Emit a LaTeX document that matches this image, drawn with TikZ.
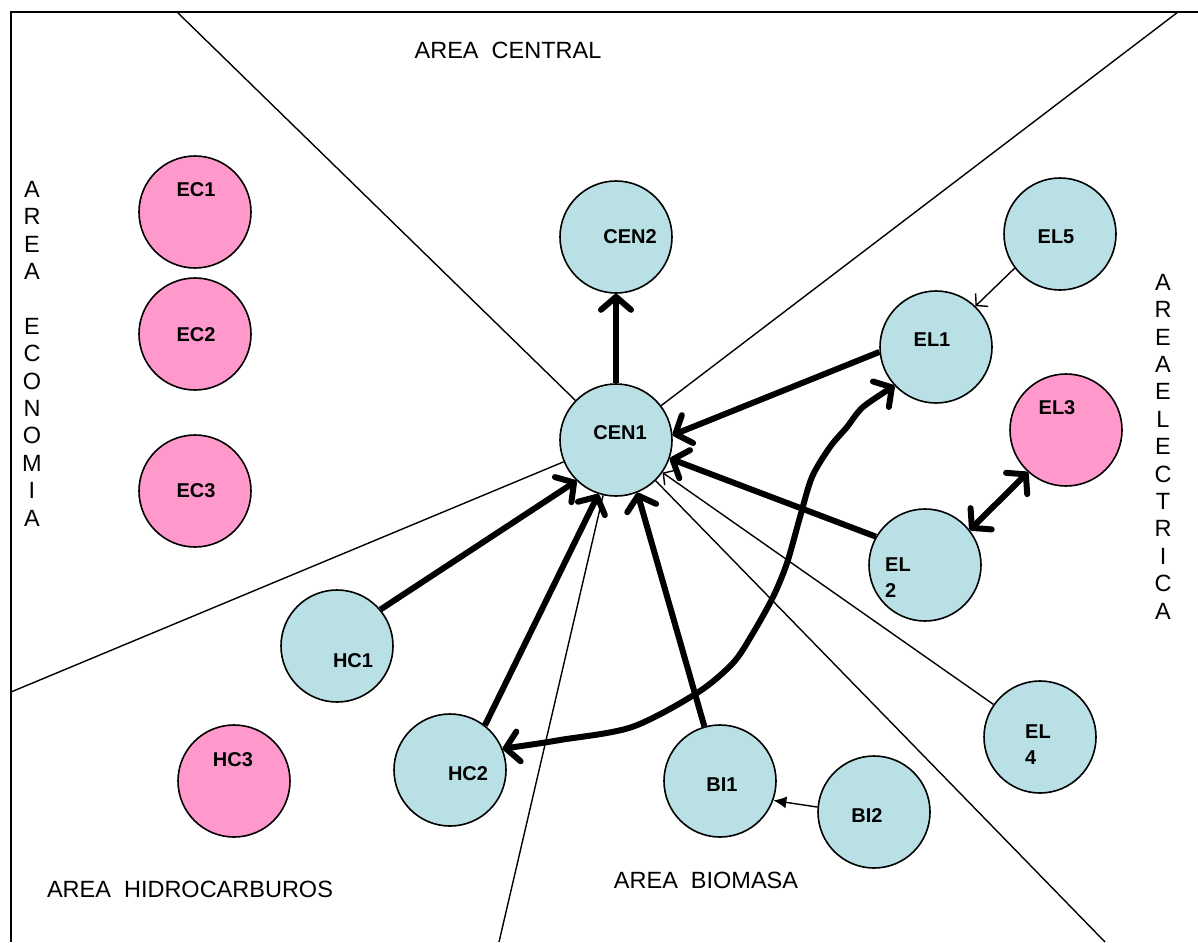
\documentclass[tikz,border=0pt]{standalone}
\usepackage{fontspec}
\setmainfont{Liberation Sans}
\usetikzlibrary{arrows.meta}
\definecolor{ballblue}{RGB}{185,224,228}
\definecolor{ballpink}{RGB}{255,153,204}

\begin{document}
\begin{tikzpicture}[x=1pt,y=-1pt]
		\tikzstyle{bluenode} = [circle,fill=ballblue,draw=black,line width=1.6pt,minimum size=112pt,inner sep=0pt];
		\tikzstyle{pinknode} = [bluenode,fill=ballpink];
		\tikzstyle{every label} = [font=\bfseries\fontsize{20}{26}\selectfont,align=left,inner sep=0pt];
		\tikzstyle{areatext} = [font=\fontsize{23.5}{27.4}\selectfont,inner sep=0pt];
		\tikzstyle{border} = [line width=1.4pt];
		\tikzstyle{flow} = [line width=6pt,>={Straight Barb[round,length=13pt,width=30pt]}];
		\tikzstyle{thinflow} = [line width=1.4pt,>={Straight Barb[length=8pt,width=18pt]}];
		\useasboundingbox (0,0) rectangle (1198,942);
		\draw[line width=1.6pt] (11,942) -- (11,12) -- (1198,12);
		% nodes
		\node[pinknode,label={[xshift=1,yshift=22]center:EC1}] (EC1) at (195,212) {};
		\node[pinknode,label={[xshift=1,yshift=-1]center:EC2}] (EC2) at (195,334) {};
		\node[pinknode,label={[xshift=1]center:EC3}] (EC3) at (195,491) {};
		\node[bluenode,label={[xshift=14]center:CEN2}] (CEN2) at (616,237) {};
		\node[bluenode,label={[xshift=4,yshift=7]center:CEN1}] (CEN1) at (616,440) {};
		\node[bluenode,label={[xshift=-4,yshift=-3]center:EL5}] (EL5) at (1060,234) {};
		\node[bluenode,label={[xshift=-4,yshift=7]center:EL1}] (EL1) at (936,347) {};
		\node[pinknode,label={[xshift=-9,yshift=22]center:EL3}] (EL3) at (1066,430) {};
		\node[bluenode,label={[xshift=-27,yshift=-13]center:EL\\2}] (EL2) at (925,565) {};
		\node[bluenode,label={[xshift=-2,yshift=-8]center:EL\\4}] (EL4) at (1040,737) {};
		\node[bluenode,label={[xshift=16,yshift=-15]center:HC1}] (HC1) at (337,646) {};
		\node[bluenode,label={[xshift=18,yshift=-4]center:HC2}] (HC2) at (450,770) {};
		\node[pinknode,label={[xshift=-1,yshift=21]center:HC3}] (HC3) at (234,781) {};
		\node[bluenode,label={[xshift=2,yshift=-4]center:BI1}] (BI1) at (720,781) {};
		\node[bluenode,label={[xshift=-7,yshift=-4]center:BI2}] (BI2) at (874,812) {};
		% area borders
		\coordinate (topleft) at (177,12);
		\coordinate (topright) at (1178,12);
		\coordinate (leftside) at (11,692);
		\coordinate (bottomleft) at (499,942);
		\coordinate (bottomright) at (1105,942);
		\draw[border] (topleft) -- (CEN1);
		\draw[border] (CEN1) -- (topright);
		\draw[border] (CEN1) -- (leftside);
		\draw[border] (CEN1) -- (bottomleft);
		\draw[border] (CEN1) -- (bottomright);
		% links
		\draw[flow,->] (CEN1.north) -- (CEN2.south);
		\draw[flow,->] (EL1.185) -- (CEN1.5);
		\draw[flow,->] (EL2.150) -- (CEN1.341);
		\draw[flow,->] (HC1.40) -- (CEN1.226);
		\draw[flow,->] (HC2.52) -- (CEN1.252);
		\draw[flow,->] (BI1.106) -- (CEN1.292);
		\draw[flow,<->] (EL2.38) -- (EL3.228);
		\draw[flow,<->] plot[smooth] coordinates {(HC2.22) (560,740) (632,727) (697,693) (733,663) (753,633) (773,597) (787,563) (800,517) (812,477) (830,447) (847,427) (863,407) (EL1.223)};
		\draw[thinflow,->] (EL5.217) -- (EL1.46);
		\draw[thinflow,->] (EL4) -- (CEN1);
		\draw[line width=1.4pt,-{Latex[length=13pt,width=12pt]}] (BI2.175) -- (BI1.340);
		% area names
		\node[areatext] (central) at (508,50) {AREA~~CENTRAL};
		\node[areatext] (hidro) at (190,889) {AREA~~HIDROCARBUROS};
		\node[areatext] (biomasa) at (706,880) {AREA~~BIOMASA};
		\node[areatext,align=center,anchor=north] (economia) at (32,181) {A\\R\\E\\A\\[27.4pt]E\\C\\O\\N\\O\\M\\I\\A};
		\node[areatext,align=center,anchor=north] (electrica) at (1163,274) {A\\R\\E\\A\\E\\L\\E\\C\\T\\R\\I\\C\\A};
	\end{tikzpicture}
\end{document}
